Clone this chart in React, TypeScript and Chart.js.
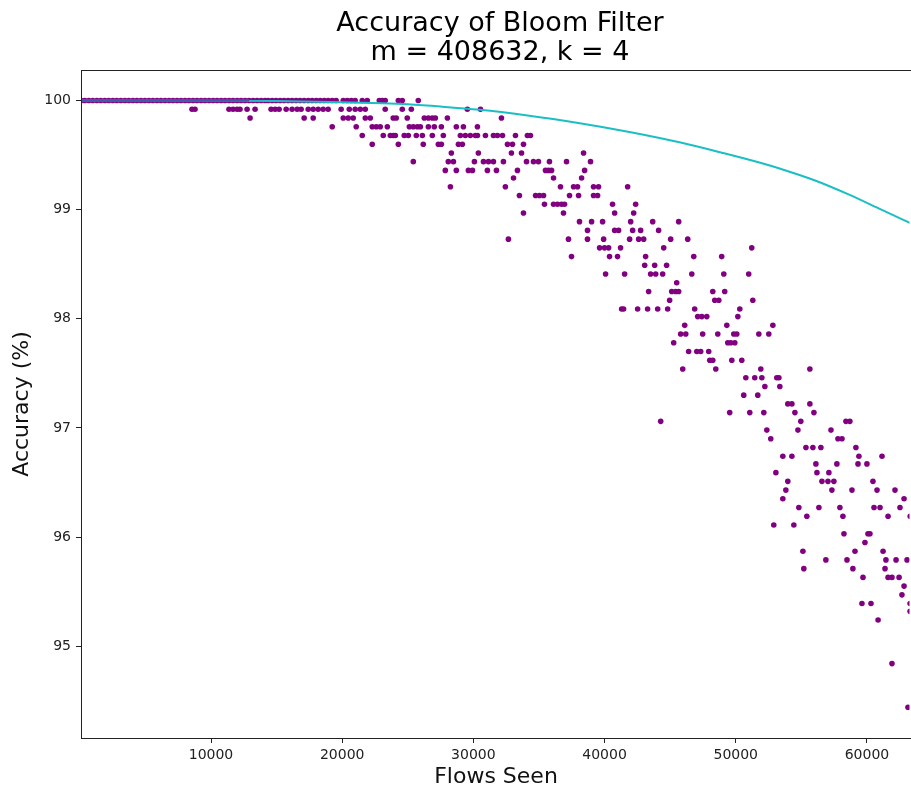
import { useEffect, useRef } from "react";
import { Chart, registerables } from "chart.js";

Chart.register(...registerables);

const FONT = "'DejaVu Sans', 'Liberation Sans', sans-serif";

const titleLines = ["Accuracy of Bloom Filter", "m = 408632, k = 4"];
const xAxisLabel = "Flows Seen";
const yAxisLabel = "Accuracy (%)";

const xTickValues = [10000, 20000, 30000, 40000, 50000, 60000];
const yTickValues = [95, 96, 97, 98, 99, 100];

// Observed accuracy levels (%) and the flows-seen values measured at each level
const accuracyLevels = [
  100.0, 99.92, 99.84, 99.76, 99.68, 99.6, 99.52, 99.44, 99.36, 99.29,
  99.21, 99.13, 99.05, 98.97, 98.89, 98.81, 98.73, 98.65, 98.57, 98.49,
  98.41, 98.33, 98.25, 98.17, 98.09, 98.02, 97.94, 97.86, 97.78, 97.7,
  97.62, 97.54, 97.46, 97.38, 97.3, 97.22, 97.14, 97.06, 96.98, 96.9,
  96.82, 96.74, 96.67, 96.59, 96.51, 96.43, 96.35, 96.27, 96.19, 96.11,
  96.03, 95.95, 95.87, 95.79, 95.71, 95.63, 95.55, 95.47, 95.39, 95.32,
  95.24, 94.84, 94.44,
];

const flowsPerLevel: number[][] = [
  [100, 380, 690, 990, 1300, 1600, 1910, 2210, 2520, 2820, 3130, 3440, 3740, 4050, 4350, 4660, 4960, 5270, 5570, 5880, 6180, 6490, 6800, 7100, 7410, 7710, 8020, 8320, 8630, 8930, 9240, 9540, 9850, 10160, 10460, 10770, 11070, 11380, 11680, 11990, 12290, 12600, 12900, 13210, 13510, 13820, 14120, 14350, 14660, 14960, 15270, 15570, 15880, 16180, 16490, 16790, 17100, 17410, 17710, 18020, 18320, 18630, 18930, 19240, 19540, 20080, 20380, 20690, 20990, 21530, 21910, 22830, 23050, 23280, 24280, 24580, 25800],
  [8550, 8780, 11370, 11680, 11990, 12210, 12750, 13360, 14580, 14890, 15190, 15730, 16180, 16570, 16870, 17410, 17790, 18170, 18550, 18930, 19920, 20540, 20990, 21380, 21760, 23280, 24580, 25270, 29540, 30540],
  [12980, 17100, 17790, 20080, 20460, 20840, 21760, 22140, 23890, 24120, 24960, 26260, 26570, 26870, 27100, 28020, 32140],
  [19240, 21070, 22290, 22600, 22900, 23440, 25120, 25420, 25730, 25960, 26570, 27020, 27560, 28700, 29240, 30310],
  [21530, 23130, 23670, 23890, 24050, 24730, 25040, 25650, 26110, 26870, 27710, 29010, 29390, 29770, 30150, 30310, 30920, 31530, 31830, 32220, 33210, 34120, 34350],
  [22290, 24280, 26180, 27330, 27560, 28860, 29160, 32600, 32980, 33820],
  [28320, 30380, 32900, 33670, 38400],
  [25420, 28090, 28480, 30080, 30770, 31150, 31530, 32290, 34050, 34580, 34960, 35800, 37100, 38930],
  [27860, 28700, 29620, 29930, 31070, 31760, 33360, 35500, 35730, 35960, 38480],
  [33060, 36110, 38250],
  [28250, 32440, 36640, 37640, 37940, 39160, 39540, 41760],
  [33510, 34740, 35040, 35350, 37330, 38020, 39160, 39470],
  [35420, 36110, 36410, 36720, 36950, 40610, 42370],
  [33820, 36870, 40770, 42220],
  [38090, 39010, 39850, 41990, 43670, 45650],
  [38700, 40770, 41070, 42140, 42750, 44120],
  [32670, 37250, 38700, 39930, 41910, 42600, 42980, 45040, 46340],
  [39620, 40000, 40310, 41220, 44510, 51220],
  [37480, 40380, 40990, 43130, 46800, 48930],
  [43060, 43820, 44730],
  [40080, 41530, 43510, 43900, 44430, 46650, 49090, 50990],
  [45500],
  [43360, 45120, 45420, 45650, 48250, 49160],
  [44960, 48400, 48710, 51300],
  [41300, 41450, 42520, 43280, 44050, 44810, 46870, 50310],
  [47100, 47410, 47790, 50160],
  [46110, 49320, 52830],
  [45800, 46190, 47480, 48630, 49850, 50080, 51760, 52520],
  [45270, 49390, 49620, 49930],
  [46410, 47030, 47330, 47940],
  [48020, 48250, 49700, 50460],
  [45960, 48480, 51910, 55650],
  [50770, 51450, 51990, 53130, 53290],
  [52220, 53360],
  [50610, 51680],
  [53970, 54280, 55650],
  [49540, 51070, 52140, 54510, 55960],
  [44280, 54960, 58400, 58700],
  [52370, 54740, 57260],
  [52670, 57790, 58100],
  [55350, 55880, 56490, 59160],
  [53590, 54280, 59390, 61150],
  [56110, 57710, 59320, 60000],
  [53060, 56190, 57100],
  [53970, 56570, 57030, 57480, 60460],
  [53820, 57330, 58860, 60770, 62140],
  [53590, 62830],
  [54810, 56340, 57940, 60540, 61000, 62520],
  [55420, 58170, 61610, 63300],
  [52900, 54430],
  [58250, 60080, 60230],
  [59850],
  [55120, 59090, 61230],
  [56870, 58480, 61450, 62220, 63060],
  [55190, 58930, 61380],
  [59700, 61610, 61910, 62450],
  [62830],
  [62670],
  [59620, 60310, 63290],
  [63290],
  [60850],
  [61910],
  [63130],
];

// Expected accuracy curve (cyan)
const expectedFlows = [0, 5000, 10000, 15000, 20000, 23000, 25000, 27500, 30500, 34000, 38000, 42000, 45800, 49000, 52000, 53400, 56000, 58600, 61100, 63430];
const expectedAccuracy = [100, 100, 99.999, 99.995, 99.985, 99.975, 99.965, 99.945, 99.915, 99.865, 99.795, 99.71, 99.615, 99.52, 99.425, 99.375, 99.27, 99.14, 99.0, 98.87];

// Ideal line (blue)
const idealFlows = [0, 12900];
const idealAccuracy = [100, 100];

const frameAndTitle = {
  id: "frameAndTitle",
  afterDraw(chart: any) {
    const { ctx, chartArea } = chart;
    const { left, right, top, bottom } = chartArea;
    ctx.save();
    // the reference is cropped on the right: keep that edge open
    ctx.fillStyle = "#fff";
    ctx.fillRect(right - 1.5, top + 1, 2, bottom - top - 1);
    ctx.fillStyle = "#222";
    ctx.fillRect(left, top, right - left, 1);
    ctx.fillRect(left, top, 1, bottom - top + 1);
    ctx.fillRect(left, bottom, right - left, 1);
    ctx.fillStyle = "#000";
    ctx.font = `27px ${FONT}`;
    ctx.textAlign = "center";
    ctx.textBaseline = "alphabetic";
    ctx.fillText(titleLines[0], 500, 31);
    ctx.fillText(titleLines[1], 500, 60);
    ctx.restore();
  },
};

export default function App() {
  const ref = useRef<HTMLCanvasElement>(null);

  useEffect(() => {
    const scatterData: { x: number; y: number }[] = [];
    flowsPerLevel.forEach((row, i) =>
      row.forEach((f) => scatterData.push({ x: f, y: accuracyLevels[i] }))
    );
    const chart = new Chart(ref.current as HTMLCanvasElement, {
      type: "scatter",
      data: {
        datasets: [
          {
            label: "ideal",
            data: idealFlows.map((x, i) => ({ x, y: idealAccuracy[i] })),
            showLine: true,
            borderColor: "#3a5ca6",
            borderWidth: 2.5,
            pointRadius: 0,
            order: 0,
          } as any,
          {
            label: "expected",
            data: expectedFlows.map((x, i) => ({ x, y: expectedAccuracy[i] })),
            showLine: true,
            borderColor: "#1abfc4",
            borderWidth: 2,
            pointRadius: 0,
            cubicInterpolationMode: "monotone",
            order: 1,
          } as any,
          {
            label: "observed",
            data: scatterData,
            showLine: false,
            backgroundColor: "#800080",
            borderColor: "#800080",
            borderWidth: 0,
            pointRadius: 2.8,
            order: 2,
          } as any,
        ],
      },
      options: {
        animation: false,
        responsive: false,
        devicePixelRatio: 1,
        events: [],
        layout: { autoPadding: false, padding: { top: 70, left: 0, right: 0, bottom: 0 } },
        plugins: {
          legend: { display: false },
          tooltip: { enabled: false },
          title: { display: false },
        },
        scales: {
          x: {
            type: "linear",
            min: 90,
            max: 63360,
            afterBuildTicks: (s: any) => {
              s.ticks = xTickValues.map((v) => ({ value: v }));
            },
            afterFit: (s: any) => {
              s.height = 51;
            },
            grid: { display: true, drawOnChartArea: false, drawTicks: true, tickLength: 5, color: "#222" },
            border: { display: false },
            ticks: {
              font: { family: FONT, size: 14 },
              color: "#222",
              padding: 4,
              maxRotation: 0,
              callback: (v: any) => String(v),
            },
            title: {
              display: true,
              text: xAxisLabel,
              color: "#111",
              font: { family: FONT, size: 22, lineHeight: 1 },
              padding: { top: 0, bottom: 1 },
            },
          },
          y: {
            type: "linear",
            min: 94.158,
            max: 100.28,
            afterBuildTicks: (s: any) => {
              s.ticks = yTickValues.map((v) => ({ value: v }));
            },
            afterFit: (s: any) => {
              s.width = 81;
            },
            grid: { display: true, drawOnChartArea: false, drawTicks: true, tickLength: 5, color: "#222" },
            border: { display: false },
            ticks: {
              font: { family: FONT, size: 14 },
              color: "#222",
              padding: 5,
              callback: (v: any) => String(v),
            },
            title: {
              display: true,
              text: yAxisLabel,
              color: "#111",
              font: { family: FONT, size: 22, lineHeight: 1 },
              padding: { top: 11, bottom: 0 },
            },
          },
        },
      },
      plugins: [frameAndTitle],
    });
    return () => chart.destroy();
  }, []);

  return (
    <div
      style={{
        position: "fixed",
        left: 0,
        top: 0,
        width: 911,
        height: 789,
        background: "#fff",
      }}
    >
      <canvas ref={ref} width={911} height={789} style={{ display: "block" }} />
    </div>
  );
}
